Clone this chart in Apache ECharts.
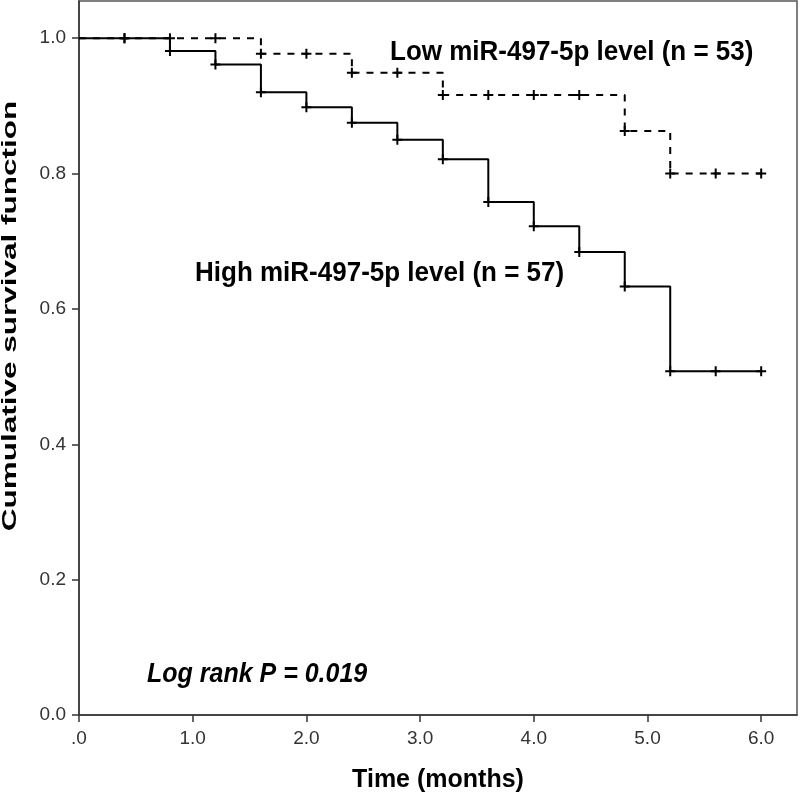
<!DOCTYPE html>
<html><head><meta charset="utf-8">
<script src="https://cdn.jsdelivr.net/npm/echarts@6/dist/echarts.min.js"></script>
<style>html,body{margin:0;padding:0;background:#fff}#c{width:800px;height:798px}</style>
</head><body><div id="c"></div>
<script>
const times = [0, 0.4, 0.8, 1.2, 1.6, 2.0, 2.4, 2.8, 3.2, 3.6, 4.0, 4.4, 4.8, 5.2, 5.6, 6.0];
const lowSurvival = [1, 1, 1, 1, 0.977, 0.977, 0.949, 0.949, 0.916, 0.916, 0.916, 0.916, 0.863, 0.800, 0.800, 0.800];
const highSurvival = [1, 1, 0.981, 0.961, 0.920, 0.898, 0.875, 0.850, 0.821, 0.758, 0.722, 0.684, 0.633, 0.508, 0.508, 0.508];
const yTicks = [0, 0.2, 0.4, 0.6, 0.8, 1.0];
const xTicks = [0, 1, 2, 3, 4, 5, 6];
const lowLabel = 'Low miR-497-5p level (n = 53)';
const highLabel = 'High miR-497-5p level (n = 57)';
const pLabel = 'Log rank P = 0.019';
const xTitle = 'Time (months)';
const yTitle = 'Cumulative survival function';

const plus = 'path://M-1,-0.2 L1,-0.2 L1,0.2 L-1,0.2 Z M-0.2,-1 L0.2,-1 L0.2,1 L-0.2,1 Z';
function build(vals){
  return times.map((t,i)=>({value:[t, vals[i]], symbol: i===0 ? 'none' : plus}));
}
const chart = echarts.init(document.getElementById('c'));
const FONT = 'Liberation Sans, Arial, sans-serif';
chart.setOption({
  animation:false,
  backgroundColor:'#fff',
  grid:{left:79, right:3, top:1, bottom:80, show:true, borderColor:'#555', borderWidth:1.5, backgroundColor:'transparent'},
  xAxis:{type:'value', min:0, max:6.315,
    name:xTitle, nameLocation:'middle', nameGap:53,
    nameTextStyle:{fontFamily:FONT, fontWeight:'bold', fontSize:25, color:'#000'},
    axisLine:{lineStyle:{color:'#333', width:1.5}},
    axisTick:{show:true, length:7, lineStyle:{color:'#333', width:1.5}, customValues:xTicks},
    axisLabel:{customValues:xTicks, fontFamily:FONT, fontSize:19, color:'#333', margin:14,
      formatter:v=> v===0 ? '.0' : v.toFixed(1)},
    splitLine:{show:false}},
  yAxis:{type:'value', min:0, max:1.055,
    axisLine:{show:true, lineStyle:{color:'#333', width:1.5}},
    axisTick:{show:true, length:7, lineStyle:{color:'#333', width:1.5}, customValues:yTicks},
    axisLabel:{customValues:yTicks, fontFamily:FONT, fontSize:19, color:'#333', margin:13,
      formatter:v=> v.toFixed(1)},
    splitLine:{show:false}},
  series:[
    {type:'line', name:'Low', step:'end', data:build(lowSurvival), symbolSize:10,
      lineStyle:{color:'#000', width:2, type:[7,7]}, itemStyle:{color:'#000'}, z:3},
    {type:'line', name:'High', step:'end', data:build(highSurvival), symbolSize:10,
      lineStyle:{color:'#000', width:2}, itemStyle:{color:'#000'}, z:4}
  ],
  graphic:[
    {type:'text', x:390, y:52, scaleY:1.07, style:{text:lowLabel, font:'bold 26px '+FONT, fill:'#000', verticalAlign:'middle'}},
    {type:'text', x:195, y:273, scaleY:1.07, style:{text:highLabel, font:'bold 26px '+FONT, fill:'#000', verticalAlign:'middle'}},
    {type:'text', x:147, y:675, scaleY:1.07, style:{text:pLabel, font:'italic bold 25px '+FONT, fill:'#000', verticalAlign:'middle'}},
    {type:'text', x:10, y:316, rotation:Math.PI/2, scaleX:1.5, style:{text:yTitle, font:'bold 21px '+FONT, fill:'#000', align:'center', verticalAlign:'middle'}}
  ]
});
</script></body></html>
